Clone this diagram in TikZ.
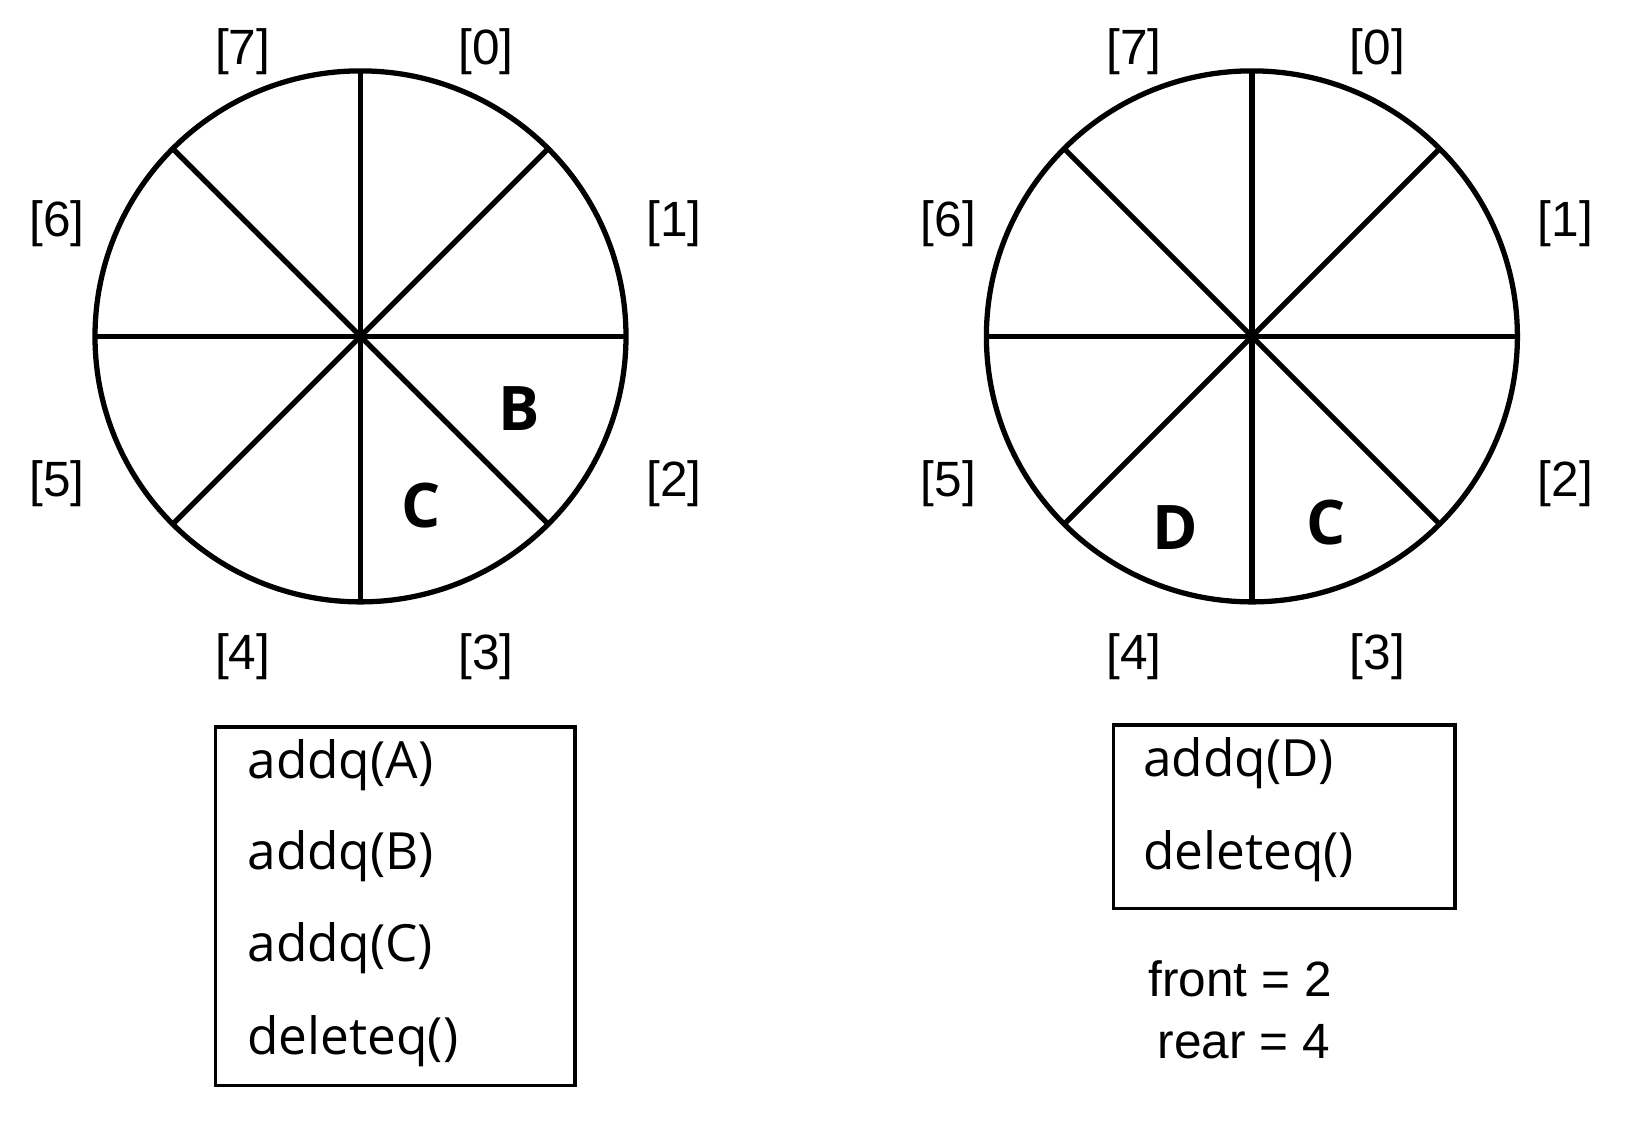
\documentclass[tikz,border=0pt]{standalone}
\usepackage{fontspec}
\setmainfont{Liberation Sans}
\newfontfamily\opfont{Open Sans}

\begin{document}
\begin{tikzpicture}[
        slot/.style={font=\fontsize{14.1}{16}\selectfont, inner sep=0pt},
        item/.style={font=\opfont\bfseries\fontsize{17.5}{20}\selectfont, inner sep=0pt},
        op/.style={font=\opfont\fontsize{14.6}{18}\selectfont, anchor=west, inner sep=0pt},
        ring/.style={line width=1.5pt},
        opbox/.style={line width=0.9pt}]
        \useasboundingbox (0,0) rectangle (16.33,11.43);

        % Two circular queues with 8 slots
        \foreach \c/\x in {lc/3.605, rc/12.519} {
            \coordinate (\c) at (\x,8.066);
            \draw[ring] (\c) circle (2.655);
            \foreach \a in {0,45,90,135}
                \draw[ring] (\c) ++(\a:2.655) -- ++(\a+180:5.31);
            \foreach \i/\dx/\dy in {0/1.255/2.85, 1/3.135/1.13, 2/3.135/-1.47, 3/1.255/-3.20,
                                    4/-1.178/-3.20, 5/-3.035/-1.47, 6/-3.035/1.13, 7/-1.178/2.85}
                \node[slot] (\c-\i) at ([shift={(\dx,\dy)}]\c) {[\i]};
        }

        % Contents of the slots
        \node[item] (lb) at (5.187,7.347) {B};
        \node[item] (lcc) at (4.208,6.379) {C};
        \node[item] (rd) at (11.748,6.15) {D};
        \node[item] (rcc) at (13.258,6.202) {C};

        % Left: operations
        \draw[opbox] (2.156,0.577) rectangle (5.75,4.16);
        \node[op] (opa) at (2.468,3.775) {addq(A)};
        \node[op] (opb) at (2.468,2.87) {addq(B)};
        \node[op] (opc) at (2.468,1.95) {addq(C)};
        \node[op] (opdel) at (2.468,1.015) {deleteq()};

        % Right: operations and pointers
        \draw[opbox] (11.134,2.348) rectangle (14.55,4.18);
        \node[op] (opd) at (11.425,3.796) {addq(D)};
        \node[op] (opdel2) at (11.425,2.87) {deleteq()};
        \node[slot] (front) at (12.40,1.64) {front = 2};
        \node[slot] (rear) at (12.44,1.015) {rear = 4};

    \end{tikzpicture}
\end{document}
